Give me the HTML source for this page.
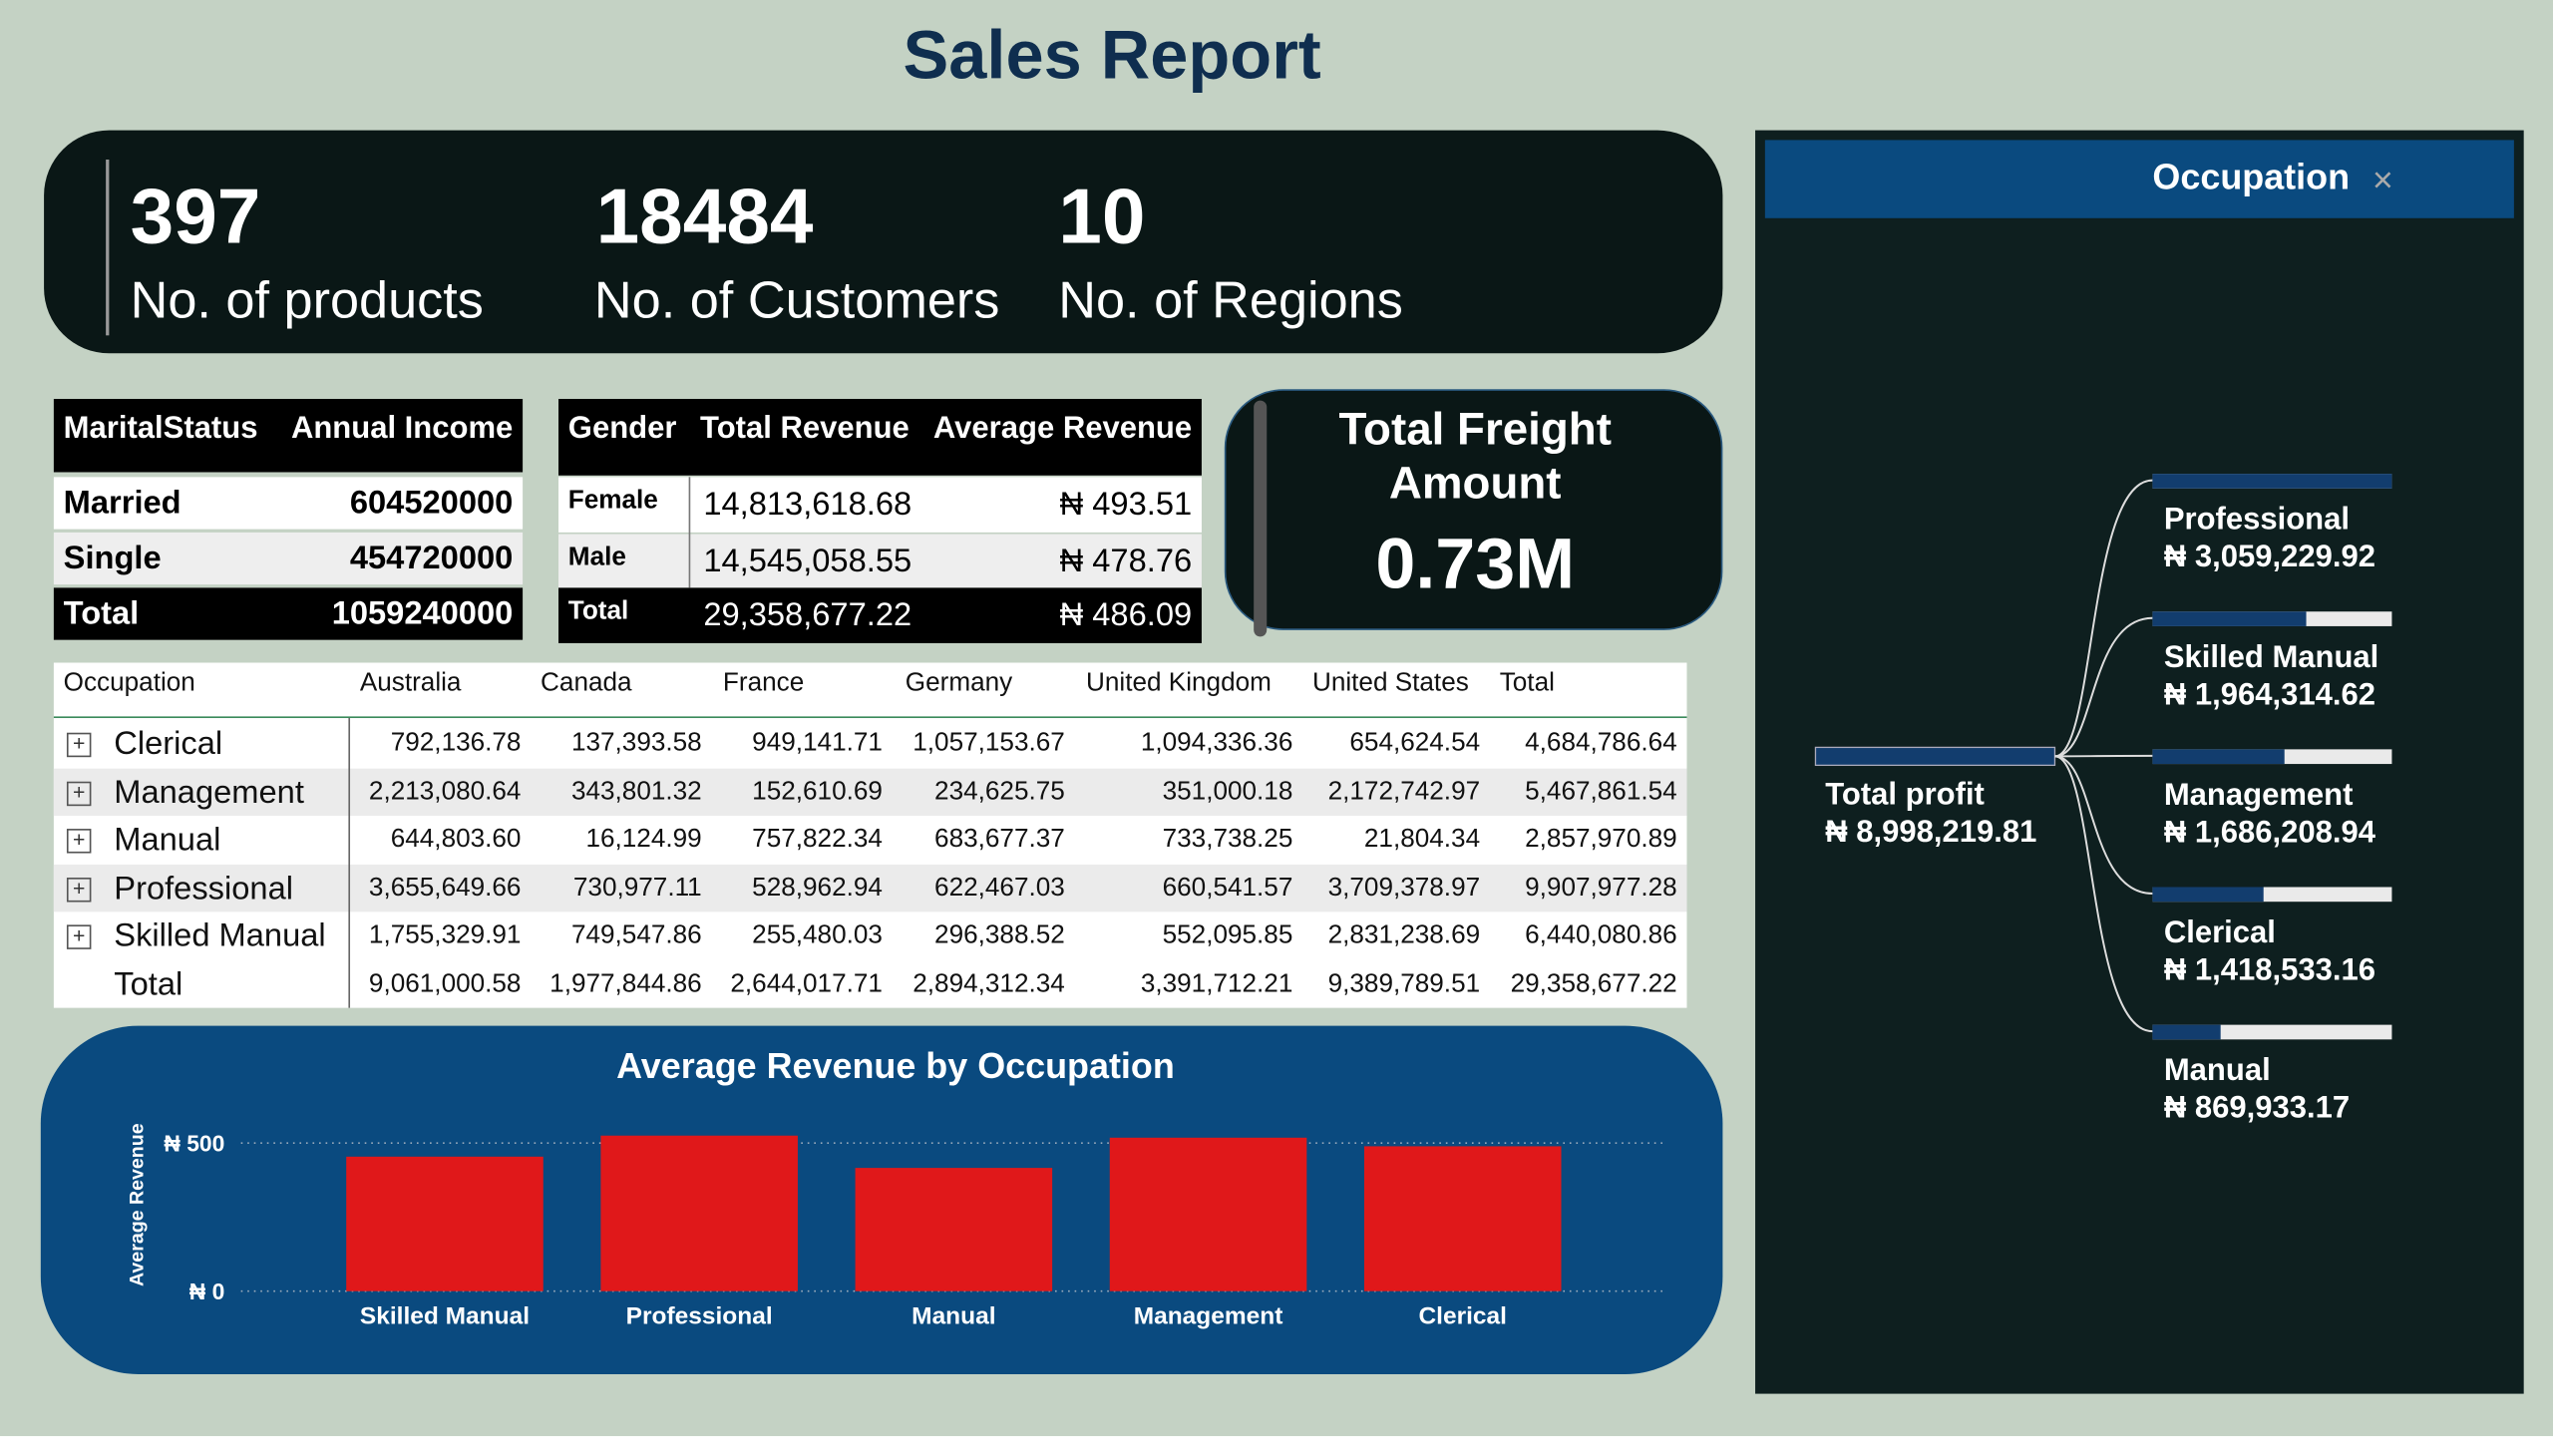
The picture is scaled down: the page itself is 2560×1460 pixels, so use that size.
<!DOCTYPE html>
<html><head><meta charset="utf-8">
<style>
html,body{margin:0;padding:0;background:#fff;width:2560px;height:1460px;overflow:hidden;}
#root{position:absolute;left:0;top:0;width:1568px;height:882px;background:#c4d2c4;transform:scale(1.6327);transform-origin:0 0;font-family:"Liberation Sans",sans-serif;}
.abs{position:absolute;}
.narrow{font-family:"Liberation Sans Narrow","Liberation Sans",sans-serif;}
.t{position:absolute;white-space:nowrap;}
.kv{font-size:48px;font-weight:bold;color:#fff;}
.kl{font-size:32px;color:#fff;}
.row{position:absolute;font-size:19px;}
.mx{position:absolute;font-size:16px;color:#111;white-space:nowrap;}
.r{text-align:right;}
.box{position:absolute;width:13px;height:13px;border:1px solid #555;font-size:13px;line-height:12px;text-align:center;color:#333;}
</style></head><body>
<div id="root">
<div class="t" style="left:0;width:1366px;text-align:center;top:10px;font-size:42px;font-weight:bold;color:#0f2e4f;">Sales Report</div>

<div class="abs" style="left:27px;top:80px;width:1031px;height:137px;background:#0a1716;border-radius:40px;">
 <div class="abs" style="left:38px;top:18px;width:2px;height:108px;background:#999;"></div>
 <div class="t kv" style="left:53px;top:26px;">397</div>
 <div class="t kl" style="left:53px;top:86px;">No. of products</div>
 <div class="t kv" style="left:339px;top:26px;">18484</div>
 <div class="t kl" style="left:338px;top:86px;">No. of Customers</div>
 <div class="t kv" style="left:623px;top:26px;">10</div>
 <div class="t kl" style="left:623px;top:86px;">No. of Regions</div>
</div>

<div class="abs" style="left:33px;top:245px;width:288px;height:148px;">
 <div class="abs" style="left:0;top:0;width:288px;height:45px;background:#000;"></div>
 <div class="t" style="left:6px;top:8px;color:#fff;font-weight:bold;font-size:19px;">MaritalStatus</div>
 <div class="t" style="right:6px;top:8px;color:#fff;font-weight:bold;font-size:19px;">Annual Income</div>
 <div class="abs" style="left:0;top:48px;width:288px;height:32px;background:#fff;"></div>
 <div class="t" style="left:6px;top:53px;font-size:20px;font-weight:bold;">Married</div><div class="t" style="right:6px;top:53px;font-size:20px;font-weight:bold;">604520000</div>
 <div class="abs" style="left:0;top:82px;width:288px;height:32px;background:#eee;"></div>
 <div class="t" style="left:6px;top:87px;font-size:20px;font-weight:bold;">Single</div><div class="t" style="right:6px;top:87px;font-size:20px;font-weight:bold;">454720000</div>
 <div class="abs" style="left:0;top:116px;width:288px;height:32px;background:#000;"></div>
 <div class="t" style="left:6px;top:121px;font-size:20px;font-weight:bold;color:#fff;">Total</div><div class="t" style="right:6px;top:121px;font-size:20px;font-weight:bold;color:#fff;">1059240000</div>
</div>

<div class="abs" style="left:343px;top:245px;width:395px;height:150px;">
 <div class="abs" style="left:0;top:0;width:395px;height:47px;background:#000;"></div>
 <div class="t" style="left:6px;top:8px;color:#fff;font-weight:bold;font-size:19px;">Gender</div>
 <div class="t" style="left:87px;top:8px;color:#fff;font-weight:bold;font-size:19px;">Total Revenue</div>
 <div class="t" style="right:6px;top:8px;color:#fff;font-weight:bold;font-size:19px;">Average Revenue</div>
 <div class="abs" style="left:0;top:48px;width:395px;height:34px;background:#fff;"></div>
 <div class="abs" style="left:0;top:83px;width:395px;height:33px;background:#eee;"></div>
 <div class="abs" style="left:0;top:116px;width:395px;height:34px;background:#000;"></div>
 <div class="abs" style="left:80px;top:48px;width:1px;height:68px;background:#777;"></div>
 <div class="t" style="left:6px;top:54px;font-size:16px;font-weight:bold;">Female</div>
 <div class="t" style="left:89px;top:54px;font-size:20px;">14,813,618.68</div>
 <div class="t" style="right:6px;top:54px;font-size:20px;">₦ 493.51</div>
 <div class="t" style="left:6px;top:89px;font-size:16px;font-weight:bold;">Male</div>
 <div class="t" style="left:89px;top:89px;font-size:20px;">14,545,058.55</div>
 <div class="t" style="right:6px;top:89px;font-size:20px;">₦ 478.76</div>
 <div class="t" style="left:6px;top:122px;font-size:16px;font-weight:bold;color:#fff;">Total</div>
 <div class="t" style="left:89px;top:122px;font-size:20px;color:#fff;">29,358,677.22</div>
 <div class="t" style="right:6px;top:122px;font-size:20px;color:#fff;">₦ 486.09</div>
</div>

<div class="abs" style="left:752px;top:239px;width:304px;height:146px;background:#0a1716;border-radius:36px;border:1px solid #2a5a80;">
 <div class="abs" style="left:17px;top:6px;width:8px;height:145px;background:#555;border-radius:4px;"></div>
 <div class="t" style="left:0;width:306px;text-align:center;top:7px;font-size:28px;font-weight:bold;color:#fff;line-height:33px;">Total Freight<br>Amount</div>
 <div class="t" style="left:0;width:306px;text-align:center;top:82px;font-size:44px;font-weight:bold;color:#fff;">0.73M</div>
</div>

<div class="abs" style="left:33px;top:407px;width:1003px;height:212px;background:#fff;">
 <div class="abs" style="left:0;top:33px;width:1003px;height:1px;background:#3a8a5a;"></div>
 <div class="abs" style="left:0;top:65px;width:1003px;height:29px;background:#ebebeb;"></div>
 <div class="abs" style="left:0;top:124px;width:1003px;height:29px;background:#ebebeb;"></div>
 <div class="abs" style="left:181px;top:34px;width:1px;height:178px;background:#666;"></div>
 <div id="mxbody"></div>
</div>

<div class="abs" style="left:25px;top:630px;width:1033px;height:214px;background:#0a4a7f;border-radius:60px;">
 <div class="t narrow" style="left:0;width:1050px;text-align:center;top:12px;font-size:22px;font-weight:bold;color:#fff;">Average Revenue by Occupation</div>
</div>
<svg class="abs" style="left:0;top:0" width="1568" height="882"><g id="chart"></g></svg>

<div class="abs" style="left:1078px;top:80px;width:472px;height:776px;background:#0e1f1f;">
 <div class="abs" style="left:6px;top:6px;width:460px;height:48px;background:#0a4a7f;">
  <div class="t" style="left:238px;top:10px;font-size:22px;font-weight:bold;color:#fff;">Occupation</div>
  <div class="t" style="left:373px;top:12px;font-size:22px;color:#aaa;">×</div>
 </div>
</div>
<svg class="abs" style="left:0;top:0" width="1568" height="882"><g id="tree"></g></svg>
</div>

<script>
// Matrix data
const mxCountries = ["Australia","Canada","France","Germany","United Kingdom","United States","Total"];
const mxOcc = ["Clerical","Management","Manual","Professional","Skilled Manual","Total"];
const mxVals = [
 ["792,136.78","137,393.58","949,141.71","1,057,153.67","1,094,336.36","654,624.54","4,684,786.64"],
 ["2,213,080.64","343,801.32","152,610.69","234,625.75","351,000.18","2,172,742.97","5,467,861.54"],
 ["644,803.60","16,124.99","757,822.34","683,677.37","733,738.25","21,804.34","2,857,970.89"],
 ["3,655,649.66","730,977.11","528,962.94","622,467.03","660,541.57","3,709,378.97","9,907,977.28"],
 ["1,755,329.91","749,547.86","255,480.03","296,388.52","552,095.85","2,831,238.69","6,440,080.86"],
 ["9,061,000.58","1,977,844.86","2,644,017.71","2,894,312.34","3,391,712.21","9,389,789.51","29,358,677.22"]
];
(function(){
 const m=document.getElementById('mxbody');
 const hx=[188,299,411,523,634,773,888], rx=[287,398,509,621,761,876,997];
 let h=document.createElement('div');h.className='mx';h.style.left='6px';h.style.top='4px';h.textContent='Occupation';
 
 
 m.appendChild(h);
 mxCountries.forEach((c,i)=>{const d=document.createElement('div');d.className='mx';d.style.left=hx[i]+'px';d.style.top='4px';d.textContent=c;
  
  
  m.appendChild(d);});
 mxOcc.forEach((o,r)=>{const y=38+r*29.5;
  if(o!=="Total"){const b=document.createElement('div');b.className='box';b.style.left='8px';b.style.top=(y+5)+'px';b.textContent='+';
   
   
   m.appendChild(b);}
  const l=document.createElement('div');l.className='mx';l.style.left=(o==="Total"?37:37)+'px';l.style.top=(y+1)+'px';l.style.fontSize='20px';l.textContent=o;
  
  
  m.appendChild(l);
  mxVals[r].forEach((v,i)=>{const d=document.createElement('div');d.className='mx';d.style.right=(1003-rx[i])+'px';d.style.top=(y+3)+'px';d.textContent=v;
   
   
   m.appendChild(d);});
 });
})();

// Bar chart data
const barCats = ["Skilled Manual","Professional","Manual","Management","Clerical"];
const barVals = [454, 525, 416, 518, 489];
const yTicks = [0, 500];
const yTickLabels = ["₦ 0","₦ 500"];
(function(){
 const NS='http://www.w3.org/2000/svg', g=document.getElementById('chart');
 const y0=793, pxPer=91/500, x0=195, step=156.3, bw=121;
 const yS=v=>y0-v*pxPer, xS=i=>x0+i*step+step/2;
 function mk(t,a){const e=document.createElementNS(NS,t);for(const k in a)e.setAttribute(k,a[k]);g.appendChild(e);return e;}
 yTicks.forEach((t,i)=>{
  const l=mk('line',{x1:148,x2:1022,y1:yS(t),y2:yS(t),stroke:'#9ab',"stroke-width":1,"stroke-dasharray":'1 3'});
  
  
  const tx=mk('text',{x:138,y:yS(t)+5,fill:'#fff',"font-size":14,"font-weight":'bold',"text-anchor":'end',"font-family":'Liberation Sans Narrow, Liberation Sans, sans-serif'});
  tx.textContent=yTickLabels[i];
  
  
 });
 const at=mk('text',{x:0,y:0,fill:'#fff',"font-size":12,"font-weight":'bold',"text-anchor":'middle',transform:'translate(88,740) rotate(-90)'});
 at.textContent='Average Revenue';
 
 
 barCats.forEach((c,i)=>{
  const r=mk('rect',{x:xS(i)-bw/2,y:yS(barVals[i]),width:bw,height:y0-yS(barVals[i]),fill:'#e0181a'});
  
  
  const t=mk('text',{x:xS(i),y:813,fill:'#fff',"font-size":15,"font-weight":'bold',"text-anchor":'middle',"font-family":'Liberation Sans Narrow, Liberation Sans, sans-serif'});
  t.textContent=c;
  
  
 });
})();

// Decomposition tree data
const treeRootLabel = "Total profit";
const treeRootValue = 8998219.81;
const treeCats = ["Professional","Skilled Manual","Management","Clerical","Manual"];
const treeVals = [3059229.92, 1964314.62, 1686208.94, 1418533.16, 869933.17];
(function(){
 const NS='http://www.w3.org/2000/svg', g=document.getElementById('tree');
 function mk(t,a){const e=document.createElementNS(NS,t);for(const k in a)e.setAttribute(k,a[k]);g.appendChild(e);return e;}
 const fmt=v=>'₦ '+v.toLocaleString('en-US',{minimumFractionDigits:2,maximumFractionDigits:2});
 const rx=1115, rw=147, ry=459, cx=1322, cw=147, maxV=Math.max(...treeVals);
 const rb=mk('rect',{x:rx,y:ry,width:rw,height:11,fill:'#123d6e',stroke:'#aab',"stroke-width":0.8});
 
 
 const t1=mk('text',{x:1121,y:494,fill:'#fff',"font-size":19,"font-weight":'bold'});t1.textContent=treeRootLabel;
 
 
 const t2=mk('text',{x:1121,y:517,fill:'#fff',"font-size":19,"font-weight":'bold'});t2.textContent=fmt(treeRootValue);
 
 
 treeCats.forEach((c,i)=>{
  const y=291+i*84.6;
  const p=mk('path',{d:`M${rx+rw},${ry+5.5} C${rx+rw+25},${ry+5.5} ${cx-40},${y+4} ${cx},${y+4}`,fill:'none',stroke:'#ddd',"stroke-width":1.2});
  
  
  const bg=mk('rect',{x:cx,y:y,width:cw,height:9,fill:'#eaeaea'});
  
  
  const f=mk('rect',{x:cx,y:y,width:cw*treeVals[i]/maxV,height:9,fill:'#123d6e'});
  
  
  const a=mk('text',{x:1329,y:y+34,fill:'#fff',"font-size":19,"font-weight":'bold'});a.textContent=c;
  
  
  const b=mk('text',{x:1329,y:y+57,fill:'#fff',"font-size":19,"font-weight":'bold'});b.textContent=fmt(treeVals[i]);
  
  
 });
})();
</script>
</body></html>
